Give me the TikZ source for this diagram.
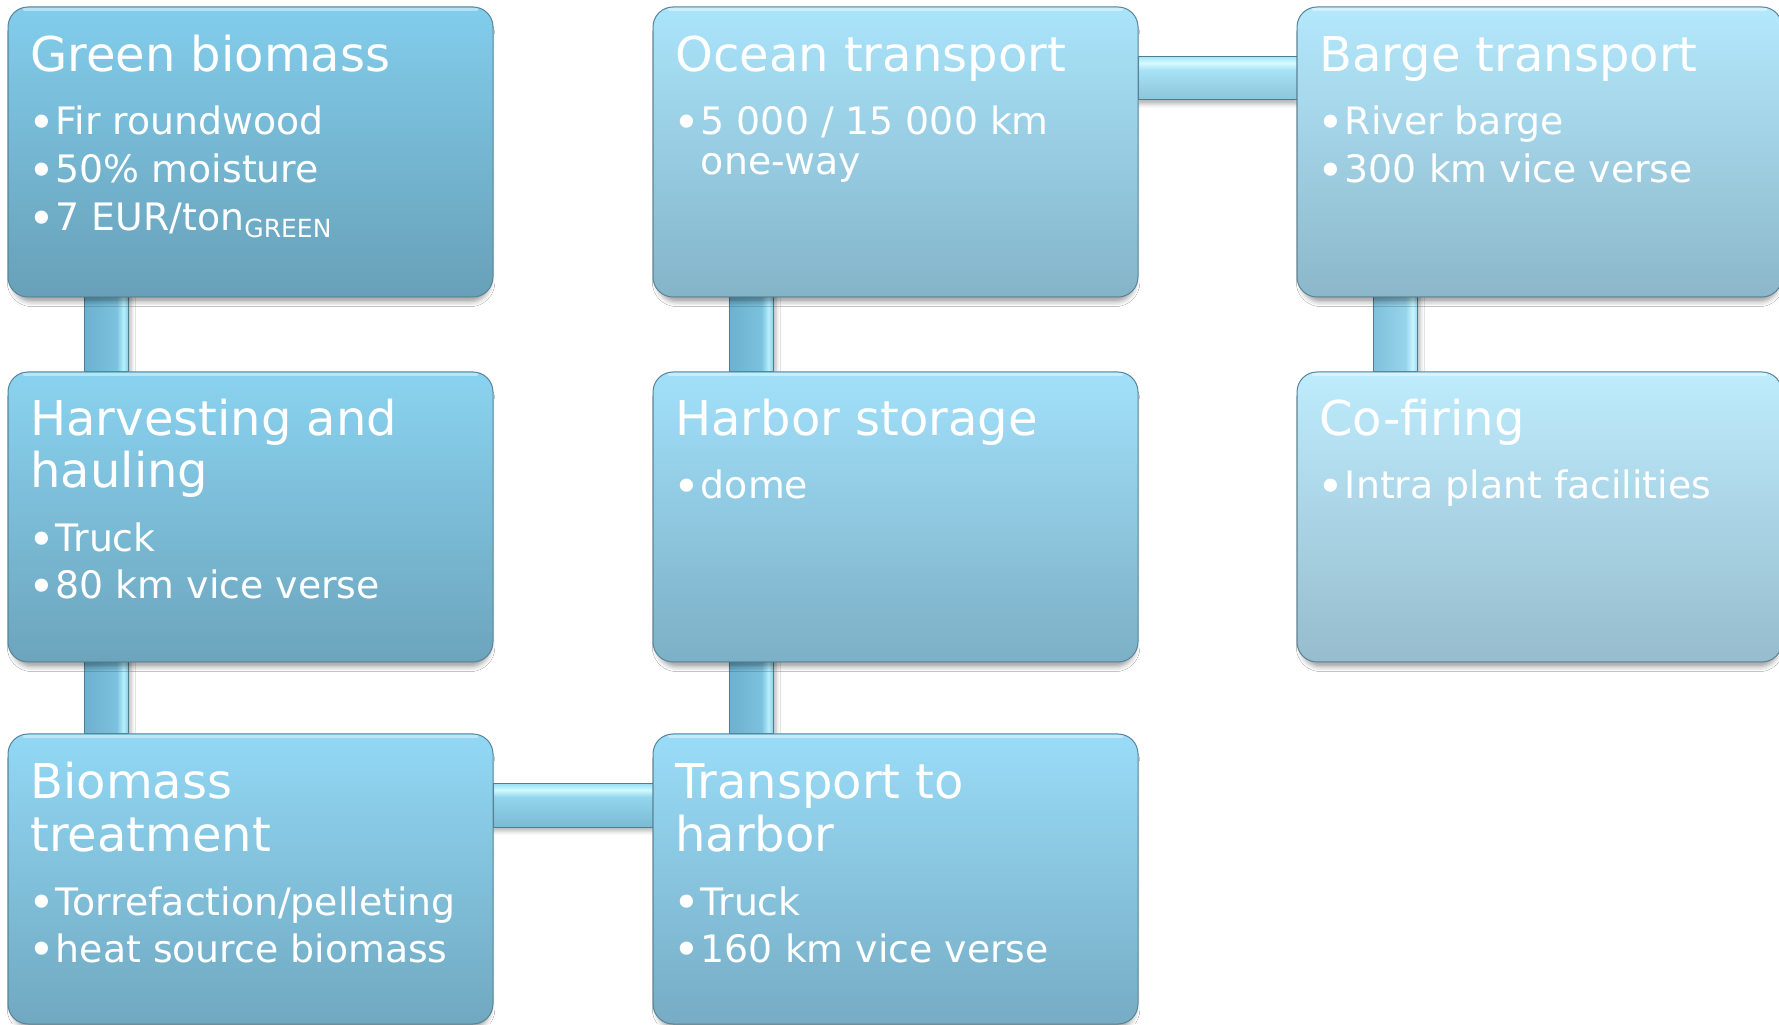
\documentclass[tikz,border=0pt]{standalone}
\usepackage{fontspec}
\setmainfont{DejaVu Sans}
\usetikzlibrary{calc,shadows.blur}

% box colours along the process (top / bottom)
\definecolor{t1}{RGB}{130,205,236}\definecolor{b1}{RGB}{104,160,184}
\definecolor{t2}{RGB}{138,211,240}\definecolor{b2}{RGB}{108,164,188}
\definecolor{t3}{RGB}{146,216,245}\definecolor{b3}{RGB}{112,168,192}
\definecolor{t4}{RGB}{154,220,248}\definecolor{b4}{RGB}{118,172,196}
\definecolor{t5}{RGB}{162,224,250}\definecolor{b5}{RGB}{124,176,198}
\definecolor{t6}{RGB}{170,228,251}\definecolor{b6}{RGB}{132,180,200}
\definecolor{t7}{RGB}{180,232,252}\definecolor{b7}{RGB}{140,183,202}
\definecolor{t8}{RGB}{190,236,253}\definecolor{b8}{RGB}{150,188,205}
\definecolor{boxedge}{RGB}{88,132,152}
\definecolor{connedge}{RGB}{80,125,145}
% connector colours
\definecolor{vcA}{RGB}{108,178,208}\definecolor{vcB}{RGB}{124,194,222}
\definecolor{vcC}{RGB}{182,240,253}\definecolor{vcD}{RGB}{140,205,228}
\definecolor{vlA}{RGB}{128,192,218}\definecolor{vlB}{RGB}{150,212,236}
\definecolor{vlC}{RGB}{200,245,255}\definecolor{vlD}{RGB}{160,218,238}
\definecolor{hcA}{RGB}{122,186,212}\definecolor{hcB}{RGB}{148,214,238}
\definecolor{hcC}{RGB}{208,250,255}\definecolor{hcD}{RGB}{158,224,244}
\definecolor{hlA}{RGB}{140,196,218}\definecolor{hlB}{RGB}{168,226,246}
\definecolor{hlC}{RGB}{215,250,255}\definecolor{hlD}{RGB}{170,230,248}

\pgfdeclarehorizontalshading{vconnsh}{100bp}{color(0bp)=(vcA); color(25bp)=(vcA); color(62bp)=(vcB); color(70bp)=(vcC); color(75bp)=(vcD); color(100bp)=(vcD)}
\pgfdeclarehorizontalshading{vconnlsh}{100bp}{color(0bp)=(vlA); color(25bp)=(vlA); color(62bp)=(vlB); color(70bp)=(vlC); color(75bp)=(vlD); color(100bp)=(vlD)}
\pgfdeclareverticalshading{hconnsh}{100bp}{color(0bp)=(hcA); color(25bp)=(hcA); color(60bp)=(hcB); color(68bp)=(hcC); color(75bp)=(hcD); color(100bp)=(hcD)}
\pgfdeclareverticalshading{hconnlsh}{100bp}{color(0bp)=(hlA); color(25bp)=(hlA); color(60bp)=(hlB); color(68bp)=(hlC); color(75bp)=(hlD); color(100bp)=(hlD)}

\pgfdeclarelayer{background}
\pgfsetlayers{background,main}

\tikzset{
  box/.style={rectangle, rounded corners=10pt, minimum width=242.5pt,
    minimum height=145pt, inner sep=0pt, outer sep=0pt, anchor=north west,
    draw=boxedge, line width=0.5pt,
    blur shadow={shadow xshift=0.3pt, shadow yshift=-3.5pt, shadow scale=0.985,
      shadow blur radius=2.5pt, shadow opacity=38}},
  ttl/.style={anchor=base west, inner sep=0pt, text=white,
    font=\fontsize{24pt}{26pt}\selectfont},
  itm/.style={anchor=base west, inner sep=0pt, text=white,
    font=\fontsize{18.9pt}{22pt}\selectfont},
  hilite/.style={white, opacity=0.4, line width=1.5pt, line cap=round},
  vconn/.style={shading=vconnsh, draw=connedge, line width=0.5pt,
    blur shadow={shadow xshift=1.5pt, shadow yshift=0pt, shadow blur radius=2pt, shadow opacity=30}},
  vconnl/.style={shading=vconnlsh, draw=connedge, line width=0.5pt,
    blur shadow={shadow xshift=1.5pt, shadow yshift=0pt, shadow blur radius=2pt, shadow opacity=30}},
  hconn/.style={shading=hconnsh, draw=connedge, line width=0.5pt,
    blur shadow={shadow xshift=0pt, shadow yshift=-2pt, shadow blur radius=2pt, shadow opacity=30}},
  hconnl/.style={shading=hconnlsh, draw=connedge, line width=0.5pt,
    blur shadow={shadow xshift=0pt, shadow yshift=-2pt, shadow blur radius=2pt, shadow opacity=30}},
}
\newcommand\bul{\makebox[13pt][l]{\hspace{-0.6pt}\raisebox{-1.9pt}{\scalebox{1.2}{\textbullet}}}}
\newcommand\tophl[1]{\draw[hilite] ([shift={(16,-2.5)}]#1.north west) -- ([shift={(-16,-2.5)}]#1.north east);}

\begin{document}
\begin{tikzpicture}[x=0.5pt,y=0.5pt]
\useasboundingbox (0,0) rectangle (1779,1024);

% ---- boxes ----
\node[box, top color=t1, bottom color=b1] (gb) at (8,1017) {};
\node[box, top color=t2, bottom color=b2] (hh) at (8,652) {};
\node[box, top color=t3, bottom color=b3] (bt) at (8,290) {};
\node[box, top color=t4, bottom color=b4] (th) at (653,290) {};
\node[box, top color=t5, bottom color=b5] (hs) at (653,652) {};
\node[box, top color=t6, bottom color=b6] (ot) at (653,1017) {};
\node[box, top color=t7, bottom color=b7] (bg) at (1297,1017) {};
\node[box, top color=t8, bottom color=b8] (cf) at (1297,652) {};

\foreach \b in {gb,hh,bt,th,hs,ot,bg,cf}{\tophl{\b}}

% ---- connectors (behind the boxes) ----
\begin{pgfonlayer}{background}
\fill[white] (0,0) rectangle (1779,1024);
\path[vconn]  ([xshift=38pt]gb.south west) rectangle ([xshift=60pt]hh.north west);
\path[vconn]  ([xshift=38pt]hh.south west) rectangle ([xshift=60pt]bt.north west);
\path[hconn]  ([yshift=-25pt]bt.north east) rectangle ([yshift=-46.5pt]th.north west);
\path[vconn]  ([xshift=38pt]hs.south west) rectangle ([xshift=60pt]th.north west);
\path[vconn]  ([xshift=38pt]ot.south west) rectangle ([xshift=60pt]hs.north west);
\path[hconnl] ([yshift=-25pt]ot.north east) rectangle ([yshift=-46.5pt]bg.north west);
\path[vconnl] ([xshift=38pt]bg.south west) rectangle ([xshift=60pt]cf.north west);
\end{pgfonlayer}

% ---- texts ----
\node[ttl] (gb-t) at ([shift={(22,-65)}]gb.north west) {Green biomass};
\node[itm] (gb-1) at ([shift={(21.5,-128)}]gb.north west) {\bul Fir roundwood};
\node[itm] (gb-2) at ([shift={(21.5,-176)}]gb.north west) {\bul 50\% moisture};
\node[itm] (gb-3) at ([shift={(21.5,-224)}]gb.north west) {\bul 7 EUR/ton\raisebox{-3.5pt}{\fontsize{12.5pt}{13pt}\selectfont GREEN}};

\node[ttl] (hh-t1) at ([shift={(22,-64)}]hh.north west) {Harvesting and};
\node[ttl] (hh-t2) at ([shift={(22,-116)}]hh.north west) {hauling};
\node[itm] (hh-1) at ([shift={(21.5,-180)}]hh.north west) {\bul Truck};
\node[itm] (hh-2) at ([shift={(21.5,-227)}]hh.north west) {\bul 80 km vice verse};

\node[ttl] (bt-t1) at ([shift={(22,-64)}]bt.north west) {Biomass};
\node[ttl] (bt-t2) at ([shift={(22,-117)}]bt.north west) {treatment};
\node[itm] (bt-1) at ([shift={(21.5,-181)}]bt.north west) {\bul Torrefaction/pelleting};
\node[itm] (bt-2) at ([shift={(21.5,-228)}]bt.north west) {\bul heat source biomass};

\node[ttl] (th-t1) at ([shift={(22,-64)}]th.north west) {Transport to};
\node[ttl] (th-t2) at ([shift={(22,-117)}]th.north west) {harbor};
\node[itm] (th-1) at ([shift={(21.5,-181)}]th.north west) {\bul Truck};
\node[itm] (th-2) at ([shift={(21.5,-228)}]th.north west) {\bul 160 km vice verse};

\node[ttl] (hs-t) at ([shift={(22,-64)}]hs.north west) {Harbor storage};
\node[itm] (hs-1) at ([shift={(21.5,-127)}]hs.north west) {\bul dome};

\node[ttl] (ot-t) at ([shift={(22,-65)}]ot.north west) {Ocean transport};
\node[itm] (ot-1) at ([shift={(21.5,-128)}]ot.north west) {\bul 5 000 / 15 000 km};
\node[itm] (ot-2) at ([shift={(47.5,-168)}]ot.north west) {one-way};

\node[ttl] (bg-t) at ([shift={(22,-65)}]bg.north west) {Barge transport};
\node[itm] (bg-1) at ([shift={(21.5,-128)}]bg.north west) {\bul River barge};
\node[itm] (bg-2) at ([shift={(21.5,-176)}]bg.north west) {\bul 300 km vice verse};

\node[ttl] (cf-t) at ([shift={(22,-64)}]cf.north west) {Co-firing};
\node[itm] (cf-1) at ([shift={(21.5,-127)}]cf.north west) {\bul Intra plant facilities};
\end{tikzpicture}
\end{document}
